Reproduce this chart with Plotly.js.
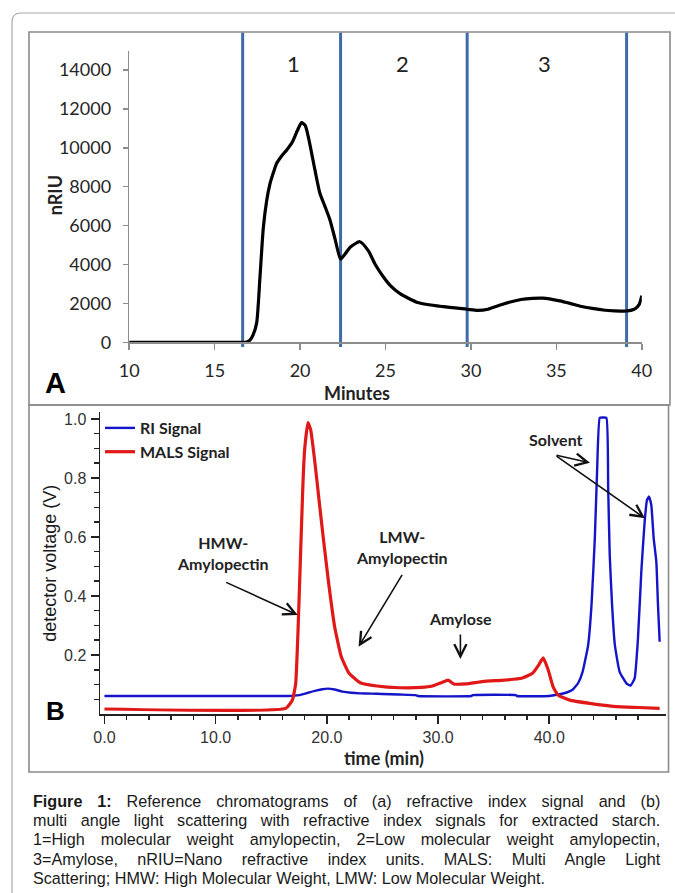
<!DOCTYPE html>
<html><head><meta charset="utf-8">
<script src="https://cdn.plot.ly/plotly-3.0.1.min.js"></script>
<style>html,body{margin:0;padding:0;background:#fff;} #chart{width:675px;height:893px;}</style>
</head><body><div id="chart"></div>
<script>
// ---------- Panel A data (refractive index, nRIU vs minutes) ----------
const minutesA = [10, 14, 16.64, 16.87, 17.07, 17.25, 17.46, 17.65, 17.85, 18.05, 18.24, 18.45, 18.63, 18.9, 19.22, 19.55, 19.85, 20.09, 20.3, 20.48, 20.87, 21.16, 21.45, 21.75, 22.05, 22.37, 22.6, 22.95, 23.5, 24.0, 24.4, 24.87, 25.3, 25.85, 26.87, 28.38, 29.77, 30.4, 31.0, 31.67, 32.3, 32.93, 33.6, 34.19, 35.2, 35.8, 36.46, 37.1, 37.73, 38.4, 39.1, 39.6, 39.85, 40.0];
const nriuA = [0, 0, 0, 20, 110, 380, 1000, 3300, 5900, 7300, 8150, 8750, 9200, 9550, 9890, 10300, 10900, 11290, 11150, 10570, 8860, 7660, 7000, 6290, 5300, 4270, 4500, 4900, 5170, 4700, 4000, 3370, 2900, 2500, 2050, 1830, 1700, 1640, 1700, 1900, 2070, 2200, 2260, 2270, 2130, 2000, 1840, 1740, 1660, 1620, 1610, 1720, 1950, 2400];
const regionBounds = [16.64, 22.37, 29.78, 39.11];
const regionLabels = ['1', '2', '3'];
const yTicksA = [0, 2000, 4000, 6000, 8000, 10000, 12000, 14000];
const yTickTextA = ['0', '2000', '4000', '6000', '8000', '10000', '12000', '14000'];

// ---------- Panel B data (detector voltage vs time) ----------
const timeRI = [0, 16.5, 17.5, 18.3, 19.0, 19.6, 20.1, 20.7, 21.4, 22.2, 23.0, 24.0, 25.0, 26.5, 28.0, 28.2, 33.0, 33.1, 37.0, 37.1, 40.0, 40.8, 41.5, 42.1, 42.6, 43.0, 43.5, 43.8, 44.1, 44.3, 44.54, 44.8, 45.14, 45.3, 45.44, 45.65, 45.9, 46.33, 46.94, 47.3, 47.68, 47.98, 48.28, 48.58, 48.79, 48.97, 49.18, 49.39, 49.63, 49.78, 49.93];
const riSignal = [0.061, 0.061, 0.064, 0.072, 0.079, 0.084, 0.086, 0.083, 0.076, 0.072, 0.070, 0.069, 0.068, 0.066, 0.064, 0.061, 0.061, 0.064, 0.064, 0.061, 0.061, 0.066, 0.072, 0.082, 0.105, 0.143, 0.234, 0.369, 0.596, 0.82, 1.004, 1.005, 1.004, 0.765, 0.539, 0.37, 0.234, 0.143, 0.104, 0.096, 0.121, 0.257, 0.482, 0.652, 0.725, 0.737, 0.708, 0.596, 0.516, 0.369, 0.245];
const timeMALS = [0, 16.3, 16.9, 17.2, 17.4, 17.6, 17.85, 18.0, 18.3, 18.55, 18.9, 19.3, 19.7, 20.2, 20.7, 21.3, 22.0, 23.0, 24.5, 26.5, 28.5, 29.5, 30.3, 30.9, 31.4, 32.5, 34.0, 36.0, 37.5, 38.5, 39.0, 39.45, 39.9, 40.34, 40.79, 41.84, 43.64, 46.0, 48.0, 49.93];
const malsSignal = [0.017, 0.019, 0.047, 0.104, 0.273, 0.5, 0.78, 0.895, 0.988, 0.963, 0.861, 0.725, 0.59, 0.432, 0.296, 0.194, 0.138, 0.106, 0.095, 0.089, 0.09, 0.095, 0.106, 0.115, 0.102, 0.102, 0.11, 0.115, 0.121, 0.138, 0.163, 0.19, 0.15, 0.093, 0.064, 0.047, 0.036, 0.025, 0.022, 0.019];
const xTicksB = [0, 10, 20, 30, 40];
const xTickTextB = ['0.0', '10.0', '20.0', '30.0', '40.0'];
const yTicksB = [0.2, 0.4, 0.6, 0.8, 1.0];
const yTickTextB = ['0.2', '0.4', '0.6', '0.8', '1.0'];

const captionLines = [
  '<b>Figure 1:</b> Reference chromatograms of (a) refractive index signal and (b)',
  'multi angle light scattering with refractive index signals for extracted starch.',
  '1=High molecular weight amylopectin, 2=Low molecular weight amylopectin,',
  '3=Amylose, nRIU=Nano refractive index units. MALS: Multi Angle Light',
  'Scattering; HMW: High Molecular Weight, LMW: Low Molecular Weight.'
];

// ---------- helpers (pixel -> paper) ----------
const W = 675, H = 893;
const px = v => v / W;
const py = v => 1 - v / H;

// minor tick positions (axis decoration)
const minorXB = [];
for (let t = 2; t < 50; t += 2) if (t % 10 !== 0) minorXB.push(t);
const minorYB = [];
for (let k = 1; k < 20; k++) if (k % 4 !== 0) minorYB.push(+(k * 0.05).toFixed(2));

const traces = [
  {x: minutesA, y: nriuA, xaxis: 'x', yaxis: 'y', type: 'scatter', mode: 'lines',
   line: {color: '#000', width: 3.2, shape: 'spline', smoothing: 0.6}, showlegend: false, hoverinfo: 'skip'},
  {x: timeRI, y: riSignal, xaxis: 'x2', yaxis: 'y2', type: 'scatter', mode: 'lines', name: 'RI Signal',
   line: {color: '#1414C8', width: 2.4, shape: 'spline', smoothing: 0.4}},
  {x: timeMALS, y: malsSignal, xaxis: 'x2', yaxis: 'y2', type: 'scatter', mode: 'lines', name: 'MALS Signal',
   line: {color: '#E01818', width: 3.2, shape: 'spline', smoothing: 0.4}}
];

const shapes = [];
// outer rounded frame
shapes.push({type: 'path', xref: 'paper', yref: 'paper',
  path: `M ${px(12)} ${py(900)} L ${px(12)} ${py(22)} Q ${px(12)} ${py(13)} ${px(21)} ${py(13)} L ${px(680)} ${py(13)}`,
  line: {color: '#a8a8a8', width: 1.2}});
// panel boxes
shapes.push({type: 'rect', xref: 'paper', yref: 'paper', x0: px(29), x1: px(670), y0: py(405), y1: py(32),
  line: {color: '#8a8a8a', width: 1.6}});
shapes.push({type: 'rect', xref: 'paper', yref: 'paper', x0: px(29), x1: px(668.5), y0: py(772), y1: py(405),
  line: {color: '#8a8a8a', width: 1.6}});
// region boundaries in panel A
regionBounds.forEach(b => shapes.push({type: 'line', xref: 'x', yref: 'paper', x0: b, x1: b,
  y0: py(347), y1: py(32.5), line: {color: '#3F6CA8', width: 3}, layer: 'below'}));

const annotations = [];
const txt = (text, x, y, font, extra) => Object.assign({text, x: px(x), y: py(y), xref: 'paper', yref: 'paper',
  showarrow: false, xanchor: 'center', yanchor: 'middle', font}, extra || {});
const lato = (size, bold, color) => ({family: 'Lato, "Open Sans", sans-serif', size, color: color || '#222', weight: bold ? 'bold' : 'normal'});
const arial = (size, bold, color) => ({family: '"Liberation Sans", Arial, sans-serif', size, color: color || '#222', weight: bold ? 'bold' : 'normal'});

// Panel A texts
annotations.push(txt(regionLabels[0], 293.8, 63.3, lato(22)));
annotations.push(txt(regionLabels[1], 402.7, 63.3, lato(22)));
annotations.push(txt(regionLabels[2], 544.9, 63.3, lato(22)));
annotations.push(txt('A', 55.5, 383, arial(29, true, '#000')));
annotations.push(txt('Minutes', 356.7, 392.7, lato(18, true)));
annotations.push(txt('nRIU', 55.2, 195, lato(18, true), {textangle: -90}));
// Panel B texts
annotations.push(txt('B', 55, 710.8, arial(26, true, '#000')));
annotations.push(txt('time (min)', 384, 758, lato(18, true)));
annotations.push(txt('detector voltage (V)', 49.8, 563, arial(18, false, '#1a1a1a'), {textangle: -90}));
annotations.push(txt('HMW-<br>Amylopectin', 222.6, 553.3, lato(16, true)));
annotations.push(txt('LMW-<br>Amylopectin', 401.5, 546.7, lato(16, true)));
annotations.push(txt('Amylose', 460.4, 618.3, lato(16, true)));
annotations.push(txt('Solvent', 555.8, 439.4, lato(16, true)));
// arrows (head at x,y ; tail offset ax, ay in px)
const arrow = (hx, hy, tx, ty) => ({text: '', x: px(hx), y: py(hy), xref: 'paper', yref: 'paper', showarrow: true,
  ax: tx - hx, ay: ty - hy, arrowhead: 5, arrowsize: 1.5, arrowwidth: 1.6, arrowcolor: '#111', standoff: 0, startstandoff: 0});
annotations.push(arrow(297.8, 615, 224.7, 581.7));
annotations.push(arrow(358.6, 646.7, 403, 573.3));
annotations.push(arrow(460.4, 659, 460.4, 633));
annotations.push(arrow(590, 462.8, 555, 455));
annotations.push(arrow(645, 518.3, 555, 455));
// caption
const captionStart = annotations.length;
const captionY = [801.2, 820.5, 839.8, 859.1, 878.4];
captionLines.forEach((line, i) => annotations.push(txt(line, 32, captionY[i],
  {family: '"Liberation Sans Narrow", "Arial Narrow", "Liberation Sans", sans-serif', size: 16.8, color: '#1a1a1a'},
  {xanchor: 'left', align: 'left', borderpad: 0})));

const layout = {
  width: W, height: H, margin: {l: 0, r: 0, t: 0, b: 0},
  paper_bgcolor: '#fff', plot_bgcolor: '#fff',
  font: {family: 'Lato, sans-serif', color: '#222'},
  xaxis: {domain: [px(129.2), px(641.8)], range: [10, 40], anchor: 'y', tickmode: 'linear', tick0: 10, dtick: 5,
    ticks: 'outside', ticklen: 6, tickwidth: 1.5, tickcolor: '#8c8c8c', showline: true, linecolor: '#8c8c8c', linewidth: 1.5,
    showgrid: false, zeroline: false, tickfont: lato(18, false, '#262626'), ticklabelstandoff: 6},
  yaxis: {domain: [py(342.3), py(50.5)], range: [0, 15000], anchor: 'x', tickmode: 'array', tickvals: yTicksA, ticktext: yTickTextA,
    ticks: 'outside', ticklen: 5, tickwidth: 1.5, tickcolor: '#8c8c8c', showline: true, linecolor: '#8c8c8c', linewidth: 1.5,
    showgrid: false, zeroline: false, tickfont: lato(18, false, '#262626'), ticklabelstandoff: 8},
  xaxis2: {domain: [px(100), px(666)], range: [-0.4, 50.5], anchor: 'y2', tickmode: 'array', tickvals: xTicksB, ticktext: xTickTextB,
    ticks: 'outside', ticklen: 8, tickwidth: 1.5, tickcolor: '#222', showline: true, linecolor: '#222', linewidth: 1.5,
    minor: {tickmode: 'array', tickvals: minorXB, ticks: 'outside', ticklen: 4, tickwidth: 1.5, tickcolor: '#222'},
    showgrid: false, zeroline: false, tickfont: arial(16, false, '#333'), ticklabelstandoff: 0},
  yaxis2: {domain: [py(714), py(411.6)], range: [0, 1.025], anchor: 'x2', tickmode: 'array', tickvals: yTicksB, ticktext: yTickTextB,
    ticks: 'outside', ticklen: 8, tickwidth: 1.5, tickcolor: '#222', showline: true, linecolor: '#222', linewidth: 1.5,
    minor: {tickmode: 'array', tickvals: minorYB, ticks: 'outside', ticklen: 5, tickwidth: 1.5, tickcolor: '#222'},
    showgrid: false, zeroline: false, tickfont: arial(16, false, '#333'), ticklabelstandoff: 1},
  showlegend: true,
  legend: {x: px(100), y: py(411), xanchor: 'left', yanchor: 'top', bgcolor: 'rgba(0,0,0,0)', borderwidth: 0,
    font: lato(16, true, '#222'), tracegroupgap: 0},
  shapes, annotations
};

Plotly.newPlot('chart', traces, layout, {staticPlot: true, displayModeBar: false}).then(() => {
  // condense the caption like a narrow face and justify lines 1-4 (last line left natural)
  const caps = [];
  document.querySelectorAll('#chart .annotation').forEach(g => {
    const li = +g.getAttribute('data-index') - captionStart;
    if (li >= 0 && li < captionLines.length) caps[li] = g.querySelector('text.annotation-text');
  });
  if (caps.length !== captionLines.length || !caps.every(Boolean)) return;
  const lastWidth = 492, fullWidth = 627;
  const w5 = caps[4].getComputedTextLength();
  const s = Math.min(1, 1.04 * lastWidth / w5);
  caps.forEach((t, i) => {
    const bb = t.getBBox();
    if (i < 4) {
      const w = t.getComputedTextLength();
      const plain = captionLines[i].replace(/<[^>]+>/g, '');
      const n = (plain.match(/ /g) || []).length;
      const need = fullWidth / s - w;
      if (n > 0 && need > 0) t.style.wordSpacing = (need / n).toFixed(2) + 'px';
    }
    const x0 = bb.x;
    const prev = t.getAttribute('transform') || '';
    t.setAttribute('transform', `${prev} translate(${x0},0) scale(${s.toFixed(4)},1) translate(${-x0},0)`.trim());
  });
});
</script></body></html>
